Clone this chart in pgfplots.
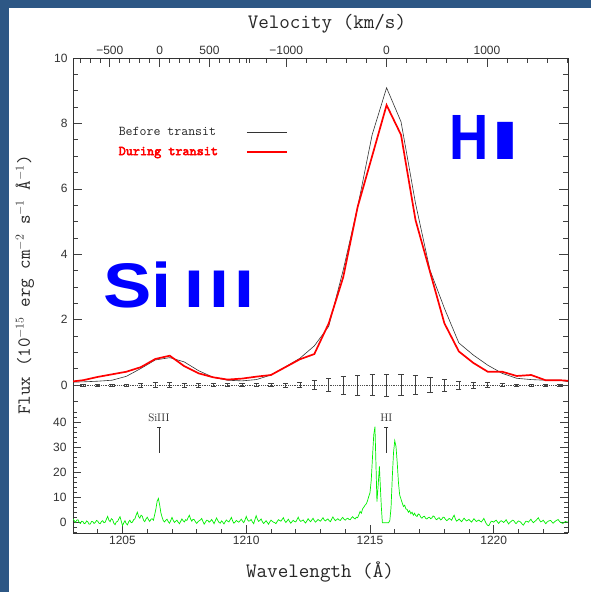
\documentclass[border=0pt]{standalone}
\usepackage{pgfplots}
\usepackage{pgfplotstable}
\pgfplotsset{compat=1.18}
\usepackage{fontspec}
\newfontfamily\lsans{Liberation Sans}
\newfontfamily\ttbold{lmmono10-regular}[Extension=.otf, FakeBold=3.5]
\definecolor{frameblue}{RGB}{45,87,133}
\definecolor{specgreen}{RGB}{0,240,0}

\pgfplotstableread{
lam before during err
1202.822 0.09 0.10 0.03
1203.406 0.10 0.15 0.03
1203.990 0.12 0.25 0.03
1204.574 0.15 0.33 0.03
1205.158 0.27 0.41 0.04
1205.742 0.51 0.55 0.06
1206.326 0.77 0.80 0.08
1206.910 0.84 0.90 0.08
1207.494 0.71 0.58 0.07
1208.078 0.44 0.36 0.06
1208.662 0.24 0.24 0.05
1209.246 0.15 0.17 0.05
1209.830 0.13 0.20 0.05
1210.414 0.17 0.26 0.05
1210.998 0.31 0.31 0.05
1211.582 0.56 0.55 0.06
1212.166 0.82 0.79 0.08
1212.750 1.20 0.95 0.14
1213.334 1.80 1.89 0.20
1213.918 3.52 3.30 0.27
1214.502 5.45 5.45 0.30
1215.086 7.65 7.00 0.32
1215.670 9.09 8.56 0.34
1216.254 8.05 7.65 0.32
1216.838 5.56 5.05 0.29
1217.422 3.52 3.47 0.23
1218.006 2.35 1.89 0.18
1218.590 1.29 1.03 0.13
1219.174 0.92 0.68 0.10
1219.758 0.61 0.41 0.08
1220.342 0.36 0.41 0.05
1220.926 0.21 0.28 0.04
1221.510 0.17 0.31 0.04
1222.094 0.15 0.15 0.04
1222.678 0.15 0.15 0.04
1223.262 0.07 0.12 0.04
}\fluxtable

\begin{document}
\begin{tikzpicture}[x=1pt,y=1pt]
\fill[frameblue] (0,0) rectangle (591,592);
\fill[white] (8.5,0) rectangle (591,584);

% ---------------- upper panel ----------------
\begin{axis}[
  at={(73pt,182pt)}, anchor=south west, scale only axis,
  width=495pt, height=352pt,
  xmin=1203, xmax=1223, ymin=-0.76, ymax=10,
  axis x line*=top, axis y line*=box,
  axis line style={-, black!80, line width=0.8pt},
  tick align=inside,
  xtick={1204.488,1206.5,1208.512,1211.615,1215.67,1219.725},
  xticklabels={−500,0,500,−1000,0,1000},
  minor xtick={1203.280,1203.683,1204.085,1204.890,1205.293,1205.695,1206.098,1206.902,1207.305,1207.707,1208.110,1208.915,1209.317,1209.720,1210.122,1210.000,1210.804,1212.426,1213.237,1214.048,1214.859,1216.481,1217.292,1218.103,1218.914,1220.536,1221.347,1222.158,1222.969},
  ytick={0,2,4,6,8,10},
  minor ytick={-0.5,0,...,10},
  yticklabel pos=left,
  major tick length=9pt, minor tick length=5pt,
  every tick/.style={black!75, line width=0.7pt},
  ticklabel style={font=\lsans\fontsize{12}{13}\selectfont, text=black!80},
  /pgf/number format/assume math mode=true,
  yticklabel style={xshift=-2pt},
  xlabel={Velocity (km/s)},
  xlabel style={font=\ttfamily\fontsize{20.5}{22}\selectfont, text=black!85,
     at={(axis description cs:0.513,1)}, anchor=base, yshift=29pt},
  legend plot pos=right,
  legend image code/.code={\draw[#1] (0pt,0pt) -- (40pt,0pt);},
  legend style={at={(rel axis cs:0.088,0.81)}, anchor=north west, draw=none, fill=none,
     font=\ttfamily\fontsize{13.5}{15}\selectfont, row sep=6pt, column sep=26pt, inner sep=0pt},
  legend cell align=left,
]
\addplot[black!80, line width=0.6pt] table[x=lam, y=before] {\fluxtable};
\addlegendentry{\textcolor{black!85}{Before transit}}
\addplot[red, line width=1.7pt] table[x=lam, y=during] {\fluxtable};
\addlegendentry{\textcolor{red}{\ttbold\fontsize{13.5}{15}\selectfont During transit}}
\addplot[forget plot, black!70, densely dotted, line width=0.8pt,
   error bars/.cd, y dir=both, y explicit, error mark=-,
   error bar style={solid, black!75, line width=0.6pt},
   error mark options={solid, black!75, line width=0.6pt, mark size=2.6pt, rotate=90}]
   table[x=lam, y expr=0, y error=err] {\fluxtable};
\end{axis}

% ---------------- lower panel ----------------
\begin{axis}[
  at={(73pt,59pt)}, anchor=south west, scale only axis,
  width=495pt, height=123pt,
  xmin=1203, xmax=1223, ymin=-4.12, ymax=45.08,
  axis x line*=bottom, axis y line*=box,
  axis line style={-, black!80, line width=0.8pt},
  tick align=inside,
  xtick={1205,1210,1215,1220},
  minor xtick={1203,1204,...,1223},
  ytick={0,10,20,30,40},
  minor ytick={-4,-2,...,44},
  yticklabel pos=left,
  major tick length=8pt, minor tick length=4pt,
  every tick/.style={black!75, line width=0.7pt},
  ticklabel style={font=\lsans\fontsize{12}{13}\selectfont, text=black!80},
  /pgf/number format/assume math mode=true,
  yticklabel style={xshift=-3pt},
  xticklabel style={/pgf/number format/.cd, 1000 sep={}},
  xlabel={Wavelength (\AA)},
  xlabel style={font=\ttfamily\fontsize{20.5}{22}\selectfont, text=black!85,
     at={(axis description cs:0.499,0)}, anchor=base, yshift=-44pt},
]
\addplot[specgreen, line width=0.7pt] coordinates {
(1203.00,1.6) (1203.05,0.8) (1203.10,0.2) (1203.15,1.0) (1203.20,1.2) (1203.25,0.1) (1203.30,-0.3) (1203.35,0.6)
(1203.40,0.5) (1203.45,-0.4) (1203.50,-0.2) (1203.55,0.7) (1203.60,0.3) (1203.65,-0.6) (1203.70,-0.5) (1203.75,0.5)
(1203.80,0.4) (1203.85,-0.3) (1203.90,0.1) (1203.95,0.9) (1204.00,0.6) (1204.05,-0.2) (1204.10,-0.4) (1204.15,0.5)
(1204.20,0.8) (1204.25,0.0) (1204.30,0.2) (1204.35,1.4) (1204.40,2.5) (1204.45,1.0) (1204.50,0.4) (1204.55,1.6)
(1204.60,1.2) (1204.65,-0.2) (1204.70,-0.8) (1204.75,0.3) (1204.80,0.5) (1204.85,1.5) (1204.90,2.4) (1204.95,0.6)
(1205.00,-1.2) (1205.05,-0.1) (1205.10,0.8) (1205.15,-0.4) (1205.20,-0.9) (1205.25,0.4) (1205.30,1.0) (1205.35,0.0)
(1205.40,0.2) (1205.45,1.2) (1205.50,1.5) (1205.55,3.0) (1205.60,4.2) (1205.65,2.5) (1205.70,1.8) (1205.75,3.0)
(1205.80,2.6) (1205.85,1.0) (1205.90,0.4) (1205.95,1.5) (1206.00,2.2) (1206.05,1.2) (1206.10,0.5) (1206.15,1.4)
(1206.20,1.6) (1206.25,1.0) (1206.30,3.2) (1206.35,5.5) (1206.40,8.6) (1206.45,9.7) (1206.50,7.2) (1206.55,4.0)
(1206.60,2.2) (1206.65,0.8) (1206.70,0.3) (1206.75,1.0) (1206.80,1.4) (1206.85,0.4) (1206.90,-0.2) (1206.95,0.9)
(1207.00,2.1) (1207.05,0.9) (1207.10,0.1) (1207.15,0.6) (1207.20,1.0) (1207.25,0.2) (1207.30,-0.4) (1207.35,0.5)
(1207.40,1.5) (1207.45,0.8) (1207.50,0.3) (1207.55,1.2) (1207.60,0.9) (1207.65,2.0) (1207.70,3.0) (1207.75,1.5)
(1207.80,0.6) (1207.85,1.4) (1207.90,1.2) (1207.95,0.3) (1208.00,-0.3) (1208.05,0.4) (1208.10,0.8) (1208.15,1.1)
(1208.20,1.7) (1208.25,0.5) (1208.30,-0.6) (1208.35,0.2) (1208.40,1.0) (1208.45,0.9) (1208.50,0.2) (1208.55,0.6)
(1208.60,1.3) (1208.65,0.5) (1208.70,-0.4) (1208.75,0.8) (1208.80,1.9) (1208.85,0.9) (1208.90,0.1) (1208.95,-0.2)
(1209.00,0.7) (1209.05,0.2) (1209.10,-0.5) (1209.15,0.4) (1209.20,1.1) (1209.25,0.6) (1209.30,0.3) (1209.35,1.2)
(1209.40,2.1) (1209.45,0.7) (1209.50,-0.2) (1209.55,0.3) (1209.60,0.9) (1209.65,0.5) (1209.70,0.2) (1209.75,0.8)
(1209.80,1.4) (1209.85,0.6) (1209.90,0.0) (1209.95,1.1) (1210.00,2.5) (1210.05,1.2) (1210.10,0.6) (1210.15,0.8)
(1210.20,1.3) (1210.25,0.3) (1210.30,-0.4) (1210.35,1.2) (1210.40,2.8) (1210.45,1.4) (1210.50,0.5) (1210.55,0.9)
(1210.60,1.5) (1210.65,0.4) (1210.70,-0.3) (1210.75,0.2) (1210.80,0.8) (1210.85,0.1) (1210.90,-0.6) (1210.95,0.3)
(1211.00,1.0) (1211.05,0.6) (1211.10,0.2) (1211.15,0.0) (1211.20,-0.4) (1211.25,0.5) (1211.30,1.2) (1211.35,0.9)
(1211.40,0.6) (1211.45,1.3) (1211.50,2.0) (1211.55,0.8) (1211.60,0.1) (1211.65,0.7) (1211.70,1.4) (1211.75,0.5)
(1211.80,-0.2) (1211.85,0.4) (1211.90,0.9) (1211.95,0.5) (1212.00,0.3) (1212.05,1.2) (1212.10,2.2) (1212.15,1.0)
(1212.20,0.5) (1212.25,0.8) (1212.30,1.1) (1212.35,0.4) (1212.40,-0.1) (1212.45,0.7) (1212.50,1.6) (1212.55,0.9)
(1212.60,0.4) (1212.65,1.1) (1212.70,1.8) (1212.75,0.8) (1212.80,0.2) (1212.85,0.7) (1212.90,1.3) (1212.95,0.9)
(1213.00,0.6) (1213.05,1.3) (1213.10,2.0) (1213.15,1.1) (1213.20,0.7) (1213.25,1.2) (1213.30,1.5) (1213.35,0.8)
(1213.40,0.4) (1213.45,1.4) (1213.50,2.3) (1213.55,1.5) (1213.60,0.8) (1213.65,1.2) (1213.70,1.6) (1213.75,1.1)
(1213.80,0.9) (1213.85,1.6) (1213.90,2.1) (1213.95,1.4) (1214.00,1.0) (1214.05,1.5) (1214.10,1.8) (1214.15,1.3)
(1214.20,1.2) (1214.25,1.9) (1214.30,2.4) (1214.35,1.8) (1214.40,1.5) (1214.45,2.2) (1214.50,2.0) (1214.55,3.2)
(1214.60,4.5) (1214.65,3.8) (1214.70,5.5) (1214.75,6.2) (1214.80,7.0) (1214.85,7.5) (1214.90,8.8) (1214.95,10.5)
(1215.00,12.0) (1215.05,17.0) (1215.10,26.0) (1215.15,35.0) (1215.20,38.4) (1215.25,20.0) (1215.28,8.4) (1215.33,15.0)
(1215.38,22.5) (1215.42,14.0) (1215.46,6.0) (1215.50,0.0) (1215.55,0.0) (1215.60,0.0) (1215.65,0.0) (1215.70,0.0)
(1215.75,0.0) (1215.80,0.8) (1215.85,6.0) (1215.90,18.0) (1215.95,28.0) (1216.00,32.8) (1216.05,30.5) (1216.10,24.0)
(1216.15,16.0) (1216.20,11.0) (1216.25,9.5) (1216.30,8.0) (1216.35,6.5) (1216.40,7.0) (1216.45,5.5) (1216.50,5.3)
(1216.55,4.2) (1216.60,4.8) (1216.65,3.6) (1216.70,4.2) (1216.75,3.0) (1216.80,3.8) (1216.85,2.8) (1216.90,2.5)
(1216.95,3.5) (1217.00,3.2) (1217.05,2.2) (1217.10,1.8) (1217.15,2.4) (1217.20,2.6) (1217.25,1.7) (1217.30,1.5)
(1217.35,2.0) (1217.40,2.2) (1217.45,1.6) (1217.50,1.9) (1217.55,2.7) (1217.60,2.4) (1217.65,1.5) (1217.70,1.2)
(1217.75,1.8) (1217.80,2.0) (1217.85,1.1) (1217.90,1.4) (1217.95,2.2) (1218.00,2.1) (1218.05,1.3) (1218.10,0.8)
(1218.15,1.2) (1218.20,1.7) (1218.25,1.4) (1218.30,1.0) (1218.35,2.2) (1218.40,3.0) (1218.45,1.5) (1218.50,0.6)
(1218.55,1.0) (1218.60,1.5) (1218.65,0.9) (1218.70,0.4) (1218.75,1.1) (1218.80,1.8) (1218.85,1.2) (1218.90,0.7)
(1218.95,1.0) (1219.00,1.3) (1219.05,0.7) (1219.10,0.2) (1219.15,0.9) (1219.20,1.6) (1219.25,1.0) (1219.30,0.5)
(1219.35,0.8) (1219.40,1.1) (1219.45,0.6) (1219.50,0.3) (1219.55,1.0) (1219.60,1.7) (1219.65,0.6) (1219.70,-0.4)
(1219.75,-1.0) (1219.80,-1.2) (1219.85,-0.2) (1219.90,0.6) (1219.95,0.5) (1220.00,0.2) (1220.05,0.7) (1220.10,1.0)
(1220.15,0.3) (1220.20,-0.3) (1220.25,0.4) (1220.30,0.8) (1220.35,0.5) (1220.40,0.1) (1220.45,0.6) (1220.50,1.2)
(1220.55,0.3) (1220.60,-0.5) (1220.65,0.1) (1220.70,0.5) (1220.75,1.0) (1220.80,0.9) (1220.85,0.2) (1220.90,-0.4)
(1220.95,0.2) (1221.00,0.7) (1221.05,0.5) (1221.10,0.1) (1221.15,-0.6) (1221.20,-1.0) (1221.25,-0.1) (1221.30,0.6)
(1221.35,0.5) (1221.40,0.2) (1221.45,0.8) (1221.50,1.4) (1221.55,0.6) (1221.60,0.0) (1221.65,0.5) (1221.70,0.8)
(1221.75,1.4) (1221.80,2.0) (1221.85,1.0) (1221.90,0.3) (1221.95,0.6) (1222.00,1.0) (1222.05,0.3) (1222.10,-0.4)
(1222.15,0.2) (1222.20,0.6) (1222.25,0.8) (1222.30,0.9) (1222.35,0.3) (1222.40,-0.2) (1222.45,0.3) (1222.50,0.7)
(1222.55,1.0) (1222.60,1.3) (1222.65,0.6) (1222.70,0.1) (1222.75,-0.1) (1222.80,-0.3) (1222.85,0.2) (1222.90,0.5)
(1222.95,0.3) (1223.00,0.2)
};
\addplot[black!80, line width=0.7pt] coordinates {(1206.47,28) (1206.47,38)};
\addplot[black!80, only marks, mark=-, mark size=2pt, mark options={line width=0.7pt}] coordinates {(1206.47,38)};
\addplot[black!80, line width=0.7pt] coordinates {(1215.66,28) (1215.66,38)};
\addplot[black!80, only marks, mark=-, mark size=2pt, mark options={line width=0.7pt}] coordinates {(1215.66,38)};
\node[font=\fontsize{11}{12}\selectfont, text=black!85, anchor=base] at (axis cs:1206.47,40.6) {SiIII};
\node[font=\fontsize{11}{12}\selectfont, text=black!85, anchor=base] at (axis cs:1215.66,40.6) {HI};
\end{axis}

% y label
\node[rotate=90, font=\ttfamily\fontsize{18.5}{20}\selectfont, text=black!85] at (25pt,307pt)
  {Flux (10$^{-15}$ erg cm$^{-2}$ s$^{-1}$ \AA$^{-1}$)};

% big labels
\node[anchor=base west, inner sep=0pt, text=blue] at (103pt,284pt)
  {\scalebox{1.15}[1]{\lsans\bfseries\fontsize{63}{63}\selectfont Si}\hspace{13pt}%
   \scalebox{1.35}[1]{\lsans\bfseries\fontsize{53}{53}\selectfont I\hspace{3.6pt}I\hspace{3.6pt}I}};
\node[anchor=base west, inner sep=0pt, text=blue] at (449pt,432.7pt)
  {\scalebox{0.85}[1]{\lsans\bfseries\fontsize{64}{64}\selectfont H}\hspace{2pt}%
   \scalebox{2}[1]{\lsans\bfseries\fontsize{54}{54}\selectfont I}};
\end{tikzpicture}
\end{document}
